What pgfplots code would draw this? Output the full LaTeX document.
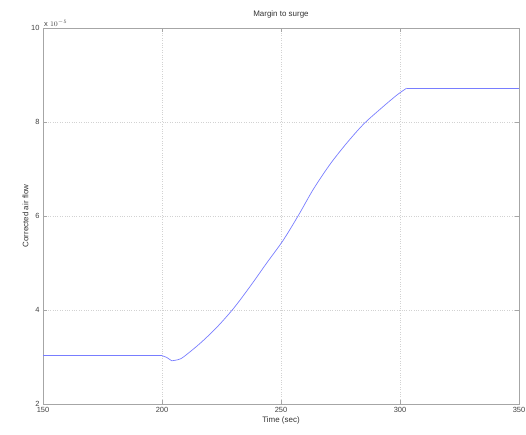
\documentclass[border=0pt]{standalone}
\usepackage{fontspec}
\setmainfont{Liberation Sans}
\usepackage{pgfplots}
\pgfplotsset{compat=1.18}
\definecolor{mblue}{RGB}{120,125,255}

\begin{document}
\begin{tikzpicture}
\useasboundingbox (-43bp,-31bp) rectangle (483bp,404bp);
\begin{axis}[
  at={(0,0)},anchor=south west,
  scale only axis,width=476bp,height=376bp,
  xmin=150,xmax=350,ymin=2,ymax=10,clip=false,
  xtick={150,200,250,300,350},ytick={2,4,6,8,10},
  tick align=inside,major tick length=4bp,
  axis line style={gray!70,line width=0.8pt},
  tick style={gray!70},
  grid=major,grid style={gray!35,dotted,line width=0.5pt},
  tick label style={font=\fontsize{7.5}{8}\selectfont,text=black!75},
  label style={font=\fontsize{8}{9}\selectfont,text=black!80},
  title style={font=\fontsize{8}{9}\selectfont,text=black!80},
  /pgf/number format/assume math mode=true,
  title={Margin to surge},
  xlabel={Time (sec)},ylabel={Corrected air flow},
  xlabel style={yshift=3bp},ylabel style={yshift=-4bp},
]
\addplot[mblue,line width=0.7pt] coordinates {(150,3.03) (200,3.03) (202,2.99) (204.1,2.92)};
\addplot[mblue,line width=0.7pt,smooth,tension=0.5] coordinates {
(204.1,2.92) (206.5,2.94) (209,3.0) (216,3.29)
(223,3.63) (230,4.03) (237,4.50) (244,5.0) (251,5.49) (257.5,6.03)
(263.6,6.57) (270.6,7.1) (277.6,7.55) (284.6,7.95) (291.6,8.27) (298.6,8.57)
(302.8,8.72)};
\addplot[mblue,line width=0.7pt] coordinates {(302.8,8.72) (350,8.72)};
\node[anchor=south west,font=\fontsize{7.5}{8}\selectfont,text=black!75,inner sep=1bp] at (rel axis cs:0,1) {x $10^{-5}$};
\end{axis}
\end{tikzpicture}
\end{document}
